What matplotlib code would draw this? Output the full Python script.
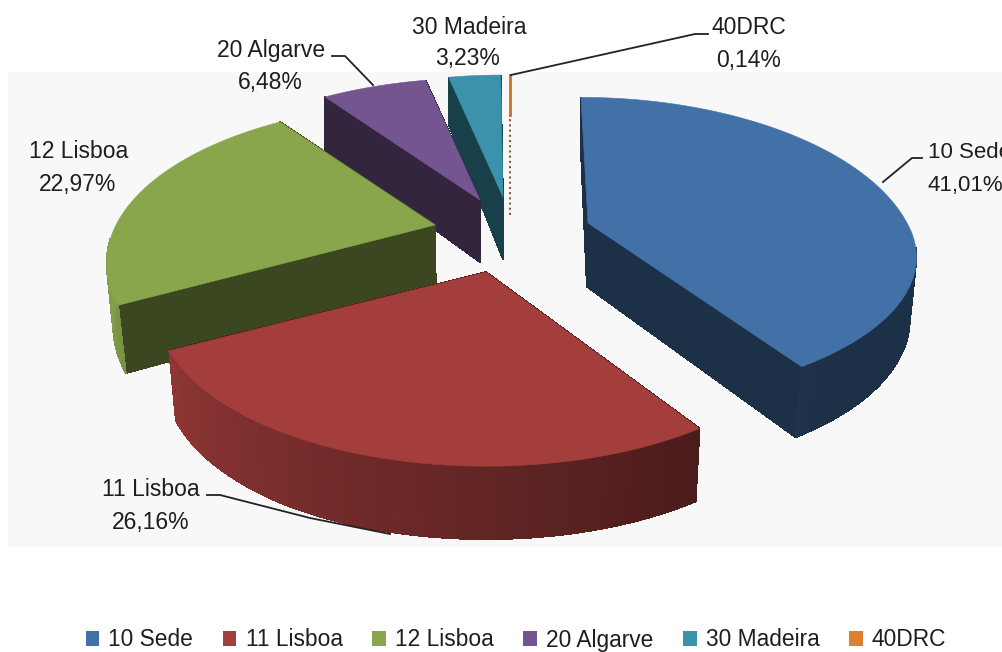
#!/usr/bin/env python3

#exploded 3d pie, drawn by hand because matplotlib has no perspective pie

import numpy as np
import matplotlib
matplotlib.use("Agg")
import matplotlib.pyplot as plt
from matplotlib.patches import Polygon, Rectangle, Patch

plt.rcParams['font.family'] = ['Liberation Sans', 'DejaVu Sans']

categories = ["10 Sede", "11 Lisboa", "12 Lisboa", "20 Algarve", "30 Madeira", "40DRC"]
shares = [41.01, 26.16, 22.97, 6.48, 3.23, 0.14]
colors = ["#4271A8", "#A33E3C", "#8AA64C", "#75558F", "#3A93AB", "#DD7F2F"]

#pivot of each exploded slice on the canvas
pivot_x = [588, 486, 435, 480, 503, 510]
pivot_y = [223, 272, 225, 200, 197, 197]
#slices sit at slightly different heights so near and far halves differ a bit
front_scale = [0.9, 0.98, 1, 1, 1, 1]
back_scale = [1.03, 1, 1, 1, 1, 1]
lean = [7, 0, 0, 0, 0, 0]

#label centre, percent line centre
label_pos = [(968, 153), (151, 490), (79, 152), (271, 51), (469, 27), (749, 28)]
pct_pos = [(968, 185), (151, 522), (78, 184), (270, 83), (468, 59), (749, 61)]
leaders = [
    [(883, 182), (912, 158), (922, 158)],
    [(207, 495), (220, 495), (310, 518), (390, 534)],
    [],
    [(332, 56), (345, 56), (373, 85)],
    [],
    [(511, 75), (695, 34), (708, 34)],
]

RX = 319
RY = 151
PERSP = 0.238


def rim(theta, i):
    #theta is clockwise from 12 o'clock, degrees
    t = np.radians(theta)
    x = np.sin(t)
    y = np.cos(t)
    w = 1 + PERSP * y
    fy = np.where(y < 0, front_scale[i], back_scale[i])
    sx = pivot_x[i] + RX * x / w - lean[i] * np.clip(y, 0, None)
    return sx, pivot_y[i] - RY * y / w * fy


def drop(sx, sy):
    #thickness grows toward the viewer, near edges lean in a little
    h = 47 + 26 * np.sqrt(np.clip((sy - 78) / 352, 0, 1))
    return sx + (500 - sx) * 0.02 * np.clip((sy - 78) / 220, 0, 1), sy + h


def shade(c, f):
    return tuple(v * f for v in matplotlib.colors.to_rgb(c))


def wall_tone(theta):
    return np.clip(0.45 + (theta - 147) * 0.0045, 0.43, 0.95)


fig = plt.figure(figsize=(10.03, 6.52), dpi=100)
ax = fig.add_axes([0, 0, 1, 1])
ax.set_xlim(0, 1003)
ax.set_ylim(652, 0)
ax.axis("off")

ax.add_patch(Rectangle((8, 72), 995, 475, fc="#F8F8F8", ec="none", zorder=0))

total = sum(shares)
edges = np.concatenate([[0], np.cumsum(shares) / total * 360])

#paint from the back slice to the front one
for i in [5, 4, 3, 2, 1, 0]:
    a0, a1 = edges[i], edges[i + 1]
    px, py = pivot_x[i], pivot_y[i]
    col = colors[i]
    z = 10 + (5 - i)

    if i == 5:
        #the DRC sliver is only a thin line, solid at the rim and dotted below
        sx, sy = rim(a0, i)
        ax.plot([px, px], [py + 18, sy + 40], color="#8A5A30", lw=1.5, ls=(0, (1, 1.5)), zorder=z)
        ax.plot([px, px], [sy + 40, sy], color="#C8702A", lw=2, zorder=z)
        continue

    #straight cut faces
    for a in (a0, a1):
        sx, sy = rim(a, i)
        bx, by = drop(sx, sy)
        bpx, bpy = drop(px, py)
        ax.add_patch(Polygon([(px, py), (sx, sy), (bx, by), (bpx, bpy)],
                             fc=shade(col, 0.43), ec=shade(col, 0.43), lw=0.5,
                             antialiased=False, zorder=z))

    #outer rim, only the part that faces the viewer
    lo, hi = max(a0, 100), min(a1, 265)
    if hi > lo:
        steps = np.linspace(lo, hi, int((hi - lo) * 2) + 2)
        for s0, s1 in zip(steps[:-1], steps[1:]):
            x0, y0 = rim(s0, i)
            x1, y1 = rim(s1, i)
            bx0, by0 = drop(x0, y0)
            bx1, by1 = drop(x1, y1)
            c = shade(col, wall_tone(s0))
            ax.add_patch(Polygon([(x0, y0), (x1, y1), (bx1, by1), (bx0, by0)],
                                 fc=c, ec=c, lw=0.5, antialiased=False, zorder=z))

    #top face
    arc = np.linspace(a0, a1, 200)
    xs, ys = rim(arc, i)
    pts = [(px, py)] + list(zip(xs, ys))
    ax.add_patch(Polygon(pts, fc=col, ec=col, lw=0.4, zorder=z))

#labels and leader lines
for i, name in enumerate(categories):
    pct = f"{shares[i]:.2f}%".replace(".", ",")
    if i == 0:
        ax.text(928, label_pos[i][1], name, ha="left", va="center", fontsize=16, color="#1E1E1E", zorder=30, clip_on=True)
        ax.text(928, pct_pos[i][1], pct, ha="left", va="center", fontsize=16, color="#1E1E1E", zorder=30, clip_on=True)
    else:
        ax.text(label_pos[i][0], label_pos[i][1], name, ha="center", va="center", fontsize=16.5, color="#1E1E1E", zorder=30)
        ax.text(pct_pos[i][0], pct_pos[i][1], pct, ha="center", va="center", fontsize=16.5, color="#1E1E1E", zorder=30)
    if leaders[i]:
        lx, ly = zip(*leaders[i])
        ax.plot(lx, ly, color="#222222", lw=1.3, zorder=29)

handles = [Patch(fc=c, ec="none") for c in colors]
ax.legend(handles, categories, loc="center", bbox_to_anchor=(516 / 1003, 1 - 640 / 652),
          ncol=6, frameon=False, fontsize=16.4, handlelength=0.6, handleheight=0.6,
          handletextpad=0.4, columnspacing=1.3, labelcolor="#1E1E1E", borderpad=0)

fig.savefig("out.png", dpi=100)
